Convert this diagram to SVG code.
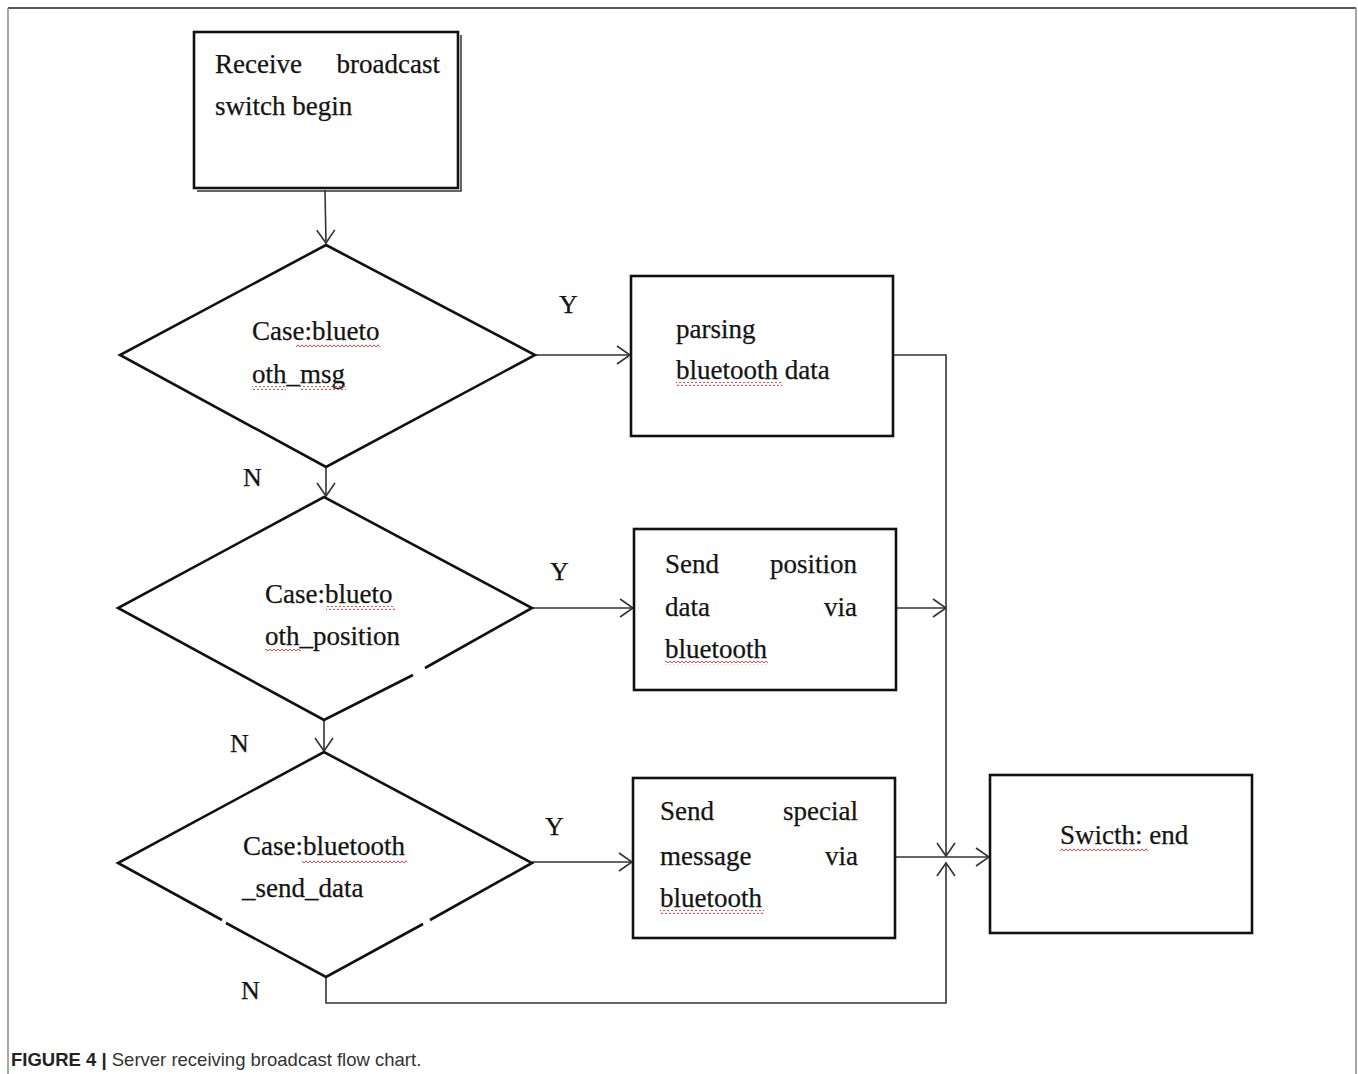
<svg xmlns="http://www.w3.org/2000/svg" width="1358" height="1074" viewBox="0 0 1358 1074">
  <style>
    .box { fill: #ffffff; stroke: #111111; stroke-width: 2.6; }
    .dia { fill: none; stroke: #111111; stroke-width: 2.6; stroke-linejoin: miter; }
    .lbl { font-family: "Liberation Serif", "Times New Roman", serif; font-size: 27px; fill: #141414; stroke: #141414; stroke-width: 0.25; }
    .yn { font-family: "Liberation Serif", "Times New Roman", serif; font-size: 26px; fill: #141414; stroke: #141414; stroke-width: 0.25; }
    .edge { fill: none; stroke: #333333; stroke-width: 1.6; }
    .cap { font-family: "Liberation Sans", Arial, sans-serif; font-size: 18.5px; fill: #333333; }
    .sq { fill: url(#wavy); }
  </style>
  <defs>
    <marker id="vhead" markerUnits="userSpaceOnUse" markerWidth="22" markerHeight="22" viewBox="-16 -11 18 22" refX="0" refY="0" orient="auto">
      <path d="M-13,-9 L0,0 L-13,9" fill="none" stroke="#333333" stroke-width="1.6"/>
    </marker>
    <pattern id="wavy" width="4" height="4" patternUnits="userSpaceOnUse">
      <path d="M0,3.2 L2,0.8 L4,3.2" fill="none" stroke="#c0504d" stroke-width="1"/>
    </pattern>
  </defs>

  <rect width="1358" height="1074" fill="#ffffff"/>

  <!-- figure frame -->
  <g id="frame">
    <line x1="8" y1="8" x2="1356" y2="8" stroke="#222222" stroke-width="1.5"/>
    <line x1="8" y1="8" x2="8" y2="1074" stroke="#8a8a8a" stroke-width="1.5"/>
    <line x1="1356" y1="8" x2="1356" y2="1074" stroke="#8a8a8a" stroke-width="1.5"/>
  </g>

  <!-- connectors -->
  <g id="connectors">
    <line class="edge" x1="325" y1="190" x2="326" y2="243" marker-end="url(#vhead)"/>
    <line class="edge" x1="326" y1="468" x2="326" y2="496" marker-end="url(#vhead)"/>
    <line class="edge" x1="324" y1="720" x2="324" y2="751" marker-end="url(#vhead)"/>
    <line class="edge" x1="535" y1="355" x2="630" y2="355" marker-end="url(#vhead)"/>
    <line class="edge" x1="532" y1="608" x2="633" y2="608" marker-end="url(#vhead)"/>
    <line class="edge" x1="532" y1="862" x2="632" y2="862" marker-end="url(#vhead)"/>
    <polyline class="edge" points="894,355 946,355 946,856" marker-end="url(#vhead)"/>
    <line class="edge" x1="897" y1="608" x2="946" y2="608" marker-end="url(#vhead)"/>
    <line class="edge" x1="895" y1="857" x2="989" y2="857" marker-end="url(#vhead)"/>
    <polyline class="edge" points="326,977 326,1003 946,1003 946,863" marker-end="url(#vhead)"/>
  </g>

  <!-- branch labels -->
  <g id="branch-labels">
    <text class="yn" x="559" y="313">Y</text>
    <text class="yn" x="550" y="580">Y</text>
    <text class="yn" x="545" y="835">Y</text>
    <text class="yn" x="243" y="486">N</text>
    <text class="yn" x="230" y="752">N</text>
    <text class="yn" x="241" y="999">N</text>
  </g>

  <!-- start box -->
  <g id="node-start">
    <polyline points="197,191 461,191 461,35" fill="none" stroke="#333333" stroke-width="1.5"/>
    <rect class="box" x="194" y="32" width="264" height="156"/>
    <text class="lbl" x="215" y="73">Receive</text>
    <text class="lbl" x="440" y="73" text-anchor="end">broadcast</text>
    <text class="lbl" x="215" y="115">switch begin</text>
  </g>

  <!-- decision: bluetooth_msg -->
  <g id="node-case-msg">
    <polygon class="dia" points="326,245 535,355 326,467 120,355"/>
    <text class="lbl" x="252" y="340">Case:blueto</text>
    <text class="lbl" x="252" y="383">oth_msg</text>
    <rect class="sq" x="296" y="343" width="84" height="4"/>
    <rect class="sq" x="252" y="386" width="34" height="4"/>
    <rect class="sq" x="300" y="386" width="46" height="4"/>
  </g>

  <!-- decision: bluetooth_position -->
  <g id="node-case-position">
    <polyline class="dia" points="413,675 324,720 118,608 324,497 532,608 425,668"/>
    <text class="lbl" x="265" y="603">Case:blueto</text>
    <text class="lbl" x="265" y="645">oth_position</text>
    <rect class="sq" x="326" y="606" width="69" height="4"/>
    <rect class="sq" x="265" y="649" width="36" height="4"/>
  </g>

  <!-- decision: bluetooth_send_data -->
  <g id="node-case-send">
    <polyline class="dia" points="222,920 118,863 324,752 532,863 430,920"/>
    <polyline class="dia" points="423,924 326,977 226,923"/>
    <text class="lbl" x="243" y="855">Case:bluetooth</text>
    <text class="lbl" x="242" y="897">_send_data</text>
    <rect class="sq" x="302" y="859" width="105" height="4"/>
  </g>

  <!-- process: parsing bluetooth data -->
  <g id="node-parse">
    <rect class="box" x="631" y="276" width="262" height="160"/>
    <text class="lbl" x="676" y="338">parsing</text>
    <text class="lbl" x="676" y="379">bluetooth data</text>
    <rect class="sq" x="676" y="382" width="106" height="4"/>
  </g>

  <!-- process: send position data -->
  <g id="node-position">
    <rect class="box" x="634" y="529" width="262" height="161"/>
    <text class="lbl" x="665" y="573">Send</text>
    <text class="lbl" x="857" y="573" text-anchor="end">position</text>
    <text class="lbl" x="665" y="616">data</text>
    <text class="lbl" x="857" y="616" text-anchor="end">via</text>
    <text class="lbl" x="665" y="658">bluetooth</text>
    <rect class="sq" x="665" y="661" width="103" height="4"/>
  </g>

  <!-- process: send special message -->
  <g id="node-special">
    <rect class="box" x="633" y="778" width="262" height="160"/>
    <text class="lbl" x="660" y="820">Send</text>
    <text class="lbl" x="858" y="820" text-anchor="end">special</text>
    <text class="lbl" x="660" y="865">message</text>
    <text class="lbl" x="858" y="865" text-anchor="end">via</text>
    <text class="lbl" x="660" y="907">bluetooth</text>
    <rect class="sq" x="660" y="910" width="104" height="4"/>
  </g>

  <!-- end box -->
  <g id="node-end">
    <rect class="box" x="990" y="775" width="262" height="158"/>
    <text class="lbl" x="1060" y="844">Swicth: end</text>
    <rect class="sq" x="1060" y="847" width="88" height="4"/>
  </g>

  <!-- caption -->
  <text class="cap" x="11" y="1066"><tspan font-weight="bold" fill="#222222">FIGURE 4 |</tspan> Server receiving broadcast flow chart.</text>
</svg>
